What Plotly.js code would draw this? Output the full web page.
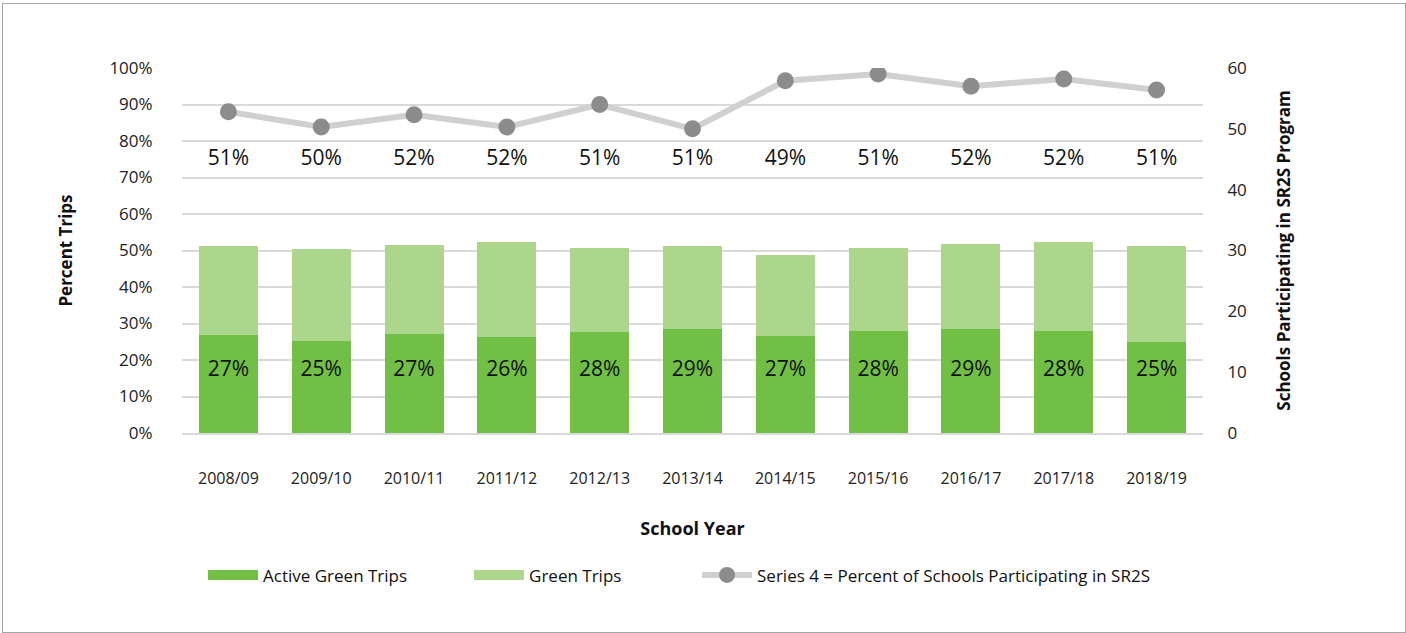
<!DOCTYPE html>
<html><head><meta charset="utf-8">
<script src="https://cdn.plot.ly/plotly-3.0.1.min.js"></script>
<style>
html,body{margin:0;padding:0;background:#fff;}
#chart{width:1406px;height:633px;position:absolute;left:0;top:0;}
#frame{position:absolute;left:2px;top:3px;width:1402px;height:628px;border:1px solid #a6a6a6;pointer-events:none;}
</style></head>
<body>
<div id="chart"></div>
<div id="frame"></div>
<script>
const years = ['2008/09','2009/10','2010/11','2011/12','2012/13','2013/14','2014/15','2015/16','2016/17','2017/18','2018/19'];
const activeGreen = [26.8,25.1,27.0,26.2,27.6,28.5,26.5,27.9,28.5,27.9,24.9];
const totalGreen = [51.1,50.3,51.6,52.4,50.6,51.1,48.9,50.6,51.9,52.4,51.1];
const schools = [52.8,50.3,52.3,50.3,54.0,50.0,57.9,59.0,57.0,58.2,56.4];
const greenOnly = totalGreen.map((t,i)=>+(t-activeGreen[i]).toFixed(1));

const DARK = '#71bf44', LIGHT = '#acd68b';
const FONT = 'Open Sans, Noto Sans, sans-serif';
const traces = [
  {type:'bar', name:'Active Green Trips', x:years, y:activeGreen, marker:{color:DARK}, hoverinfo:'skip', showlegend:false},
  {type:'bar', name:'Green Trips', x:years, y:greenOnly, marker:{color:LIGHT}, hoverinfo:'skip', showlegend:false},
  {type:'scatter', mode:'lines+markers', name:'Series 4 = Percent of Schools Participating in SR2S', x:years, y:schools, yaxis:'y2',
   line:{color:'#d0d0d0', width:6}, marker:{color:'#8c8c8c', size:17}, hoverinfo:'skip', legendrank:3},
  {type:'scatter', mode:'text', x:years, y:years.map(()=>17), text:activeGreen.map(v=>Math.round(v)+'%'),
   textfont:{size:21, color:'#111', family:FONT}, showlegend:false, hoverinfo:'skip'},
  {type:'scatter', mode:'text', x:years, y:years.map(()=>75), text:totalGreen.map(v=>Math.round(v)+'%'),
   textfont:{size:21, color:'#111', family:FONT}, showlegend:false, hoverinfo:'skip'},
  // legend entries for the bar series (wide swatches)
  {type:'scatter', mode:'lines', name:'Active Green Trips', x:[null], y:[null], line:{color:DARK, width:14}, legendrank:1, legendwidth:201, hoverinfo:'skip'},
  {type:'scatter', mode:'lines', name:'Green Trips', x:[null], y:[null], line:{color:LIGHT, width:14}, legendrank:2, legendwidth:163, hoverinfo:'skip'}
];
const layout = {
  width:1406, height:633,
  margin:{l:182, r:203, t:68, b:200},
  paper_bgcolor:'#fff', plot_bgcolor:'#fff',
  font:{family:FONT, color:'#222'},
  barmode:'stack', bargap:0.364,
  showlegend:true,
  legend:{orientation:'h', x:0.0206, xanchor:'left', y:-0.39, yanchor:'middle', font:{size:17, color:'#111'}, traceorder:'normal', itemwidth:50},
  xaxis:{range:[-0.5,10.5], tickfont:{size:16, color:'#222'}, ticks:'outside', ticklen:30, tickcolor:'rgba(0,0,0,0)',
    showline:true, linecolor:'#d9d9d9', linewidth:2, fixedrange:true,
    title:{text:'<b>School Year</b>', font:{size:18, color:'#111'}, standoff:34}},
  yaxis:{range:[0,100], dtick:10, ticksuffix:'%', tickfont:{size:17, color:'#222'}, gridcolor:'#d9d9d9', gridwidth:2,
    zeroline:false, ticks:'outside', ticklen:25, tickcolor:'rgba(0,0,0,0)', fixedrange:true,
    title:{text:'<b>Percent Trips</b>', font:{size:17, color:'#111'}, standoff:32}},
  yaxis2:{range:[0,60], dtick:10, overlaying:'y', side:'right', showgrid:false, zeroline:false, fixedrange:true,
    tickfont:{size:17, color:'#222'}, ticks:'outside', ticklen:20, tickcolor:'rgba(0,0,0,0)',
    title:{text:'<b>Schools Participating in SR2S Program</b>', font:{size:17, color:'#111'}, standoff:32}}
};
Plotly.newPlot('chart', traces, layout, {displayModeBar:false, staticPlot:true});
</script>
</body></html>
